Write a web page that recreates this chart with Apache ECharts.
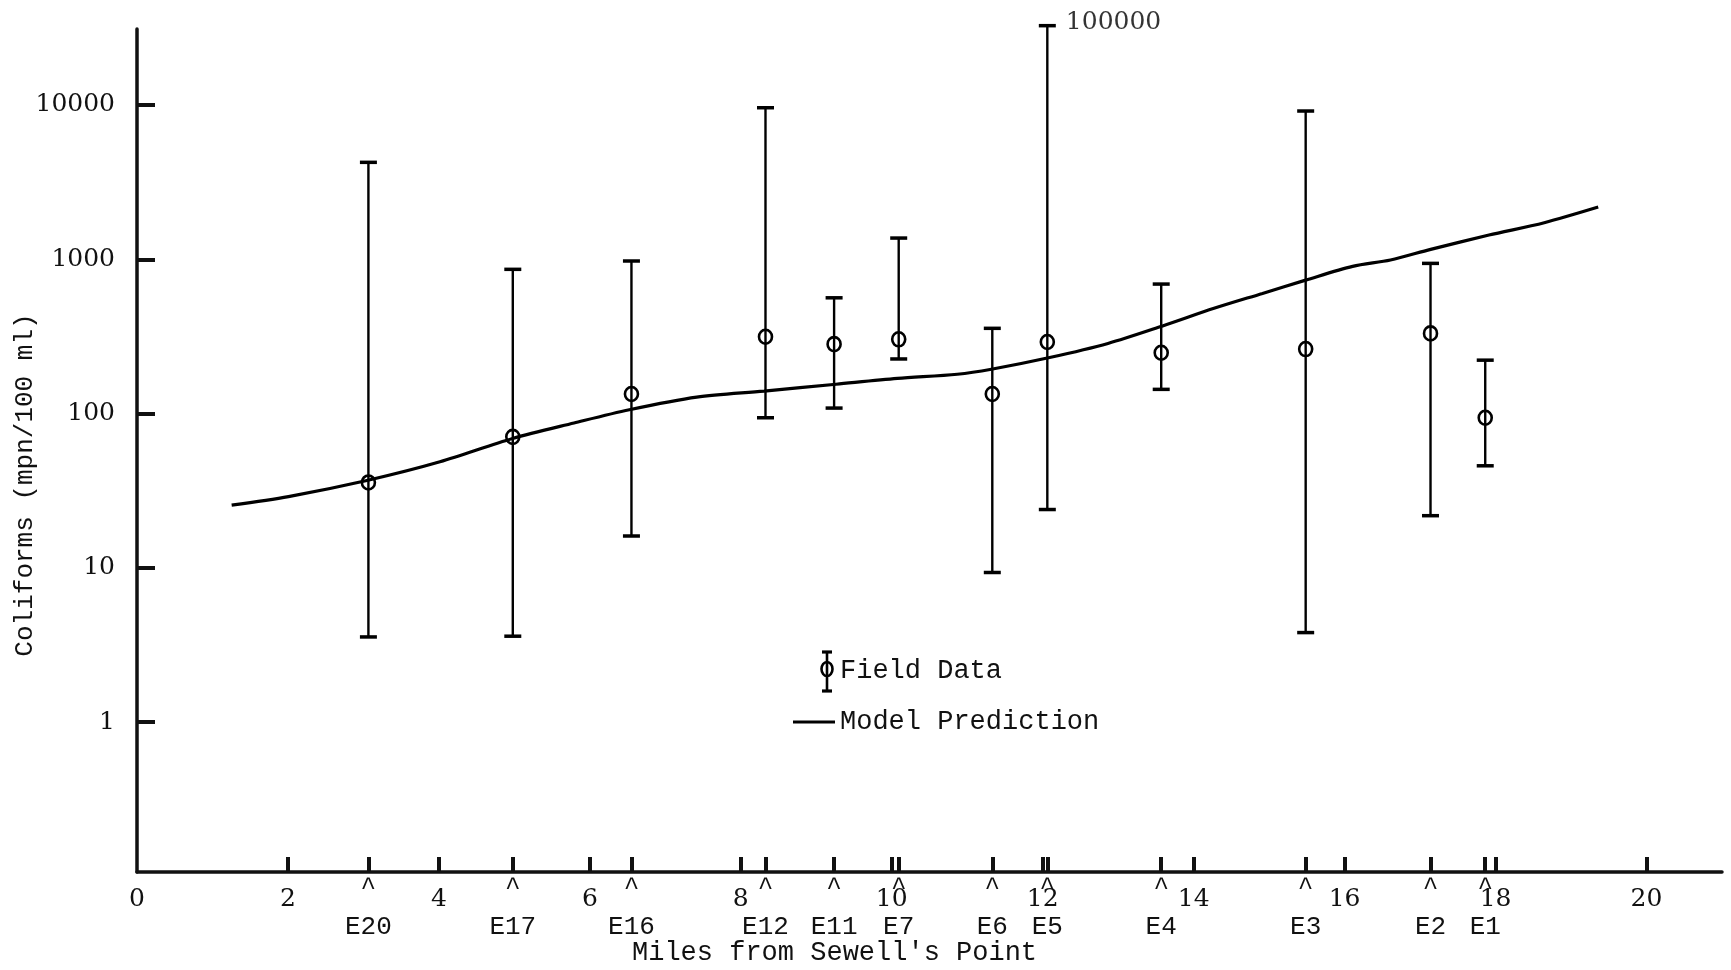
<!DOCTYPE html>
<html><head><meta charset="utf-8">
<script src="https://cdn.jsdelivr.net/npm/echarts@6/dist/echarts.min.js"></script>
<style>html,body{margin:0;padding:0;background:#fff;} #c{width:1731px;height:970px;}</style>
</head><body><div id="c"></div>
<script>
// ---- data ----
const stations     = ['E20','E17','E16','E12','E11','E7','E6','E5','E4','E3','E2','E1'];
const stationMiles = [3.066, 4.979, 6.551, 8.327, 9.236, 10.092, 11.332, 12.061, 13.570, 15.484, 17.138, 17.863];
const fieldMean    = [35.8, 70.7, 134, 315, 282, 303, 134, 291, 248, 262, 331, 94];
const fieldLow     = [3.57, 3.61, 16.1, 94, 108.6, 226, 9.34, 23.9, 143.6, 3.81, 21.8, 45.9];
const fieldHigh    = [4250, 861, 975, 9600, 563, 1373, 357, 32660, 691, 9140, 941, 222];
const clippedStation = 'E5';
const clippedLabel   = '100000';

const modelMiles  = [1.254, 2.007, 3.061, 4.014, 4.977, 5.790, 6.523, 7.416, 8.309, 9.262, 10.075, 10.868, 11.320, 12.092, 12.865, 13.588, 14.270, 14.912, 15.484, 16.106, 16.608, 17.140, 17.913, 18.645, 19.36];
const modelValues = [25.5, 29, 37, 48.7, 69, 87, 106, 128, 140, 155, 169, 180, 194, 231, 285, 370, 481, 601, 733, 900, 990, 1160, 1436, 1727, 2180];

const xTickValues  = [2, 4, 6, 8, 10, 12, 14, 16, 18, 20];
const xLabelValues = [0, 2, 4, 6, 8, 10, 12, 14, 16, 18, 20];
const yTickValues  = [1, 10, 100, 1000, 10000];

const xAxisTitle = "Miles from Sewell's Point";
const yAxisTitle = 'Coliforms (mpn/100 ml)';
const legendField = 'Field Data';
const legendModel = 'Model Prediction';

// ---- build ----
const INK = '#111';
const MONO = '"Liberation Mono", "DejaVu Sans Mono", monospace';
const SERIF = '"DejaVu Serif", "Liberation Serif", serif';

const errData = stationMiles.map((m, i) => [m, fieldMean[i], fieldLow[i], fieldHigh[i]]);
const modelData = modelMiles.map((m, i) => [m, modelValues[i]]);
const ci = stations.indexOf(clippedStation);

const chart = echarts.init(document.getElementById('c'));
chart.setOption({
  backgroundColor: '#fff',
  animation: false,
  grid: { left: 137, right: 9, top: 29, bottom: 98, outerBoundsMode: 'none' },
  xAxis: [{
    type: 'value', min: 0, max: 21,
    axisLine: { show: true, lineStyle: { color: INK, width: 3.5 } },
    axisTick: { show: true, inside: true, length: 15, customValues: xTickValues, lineStyle: { color: INK, width: 4 } },
    axisLabel: { customValues: xLabelValues, margin: 15, color: INK, fontFamily: SERIF, fontSize: 25 },
    splitLine: { show: false }
  }, {
    type: 'value', min: 0, max: 21, position: 'bottom',
    axisLine: { show: false },
    axisTick: { show: true, inside: true, length: 15, customValues: stationMiles, lineStyle: { color: INK, width: 4 } },
    axisLabel: {
      customValues: stationMiles, margin: 6, color: INK,
      formatter: function (v) {
        let k = 0, best = 1e9;
        stationMiles.forEach((m, i) => { const d = Math.abs(m - v); if (d < best) { best = d; k = i; } });
        return '{c|^}\n{s|' + stations[k] + '}';
      },
      rich: {
        c: { fontFamily: MONO, fontSize: 26, lineHeight: 20, color: INK },
        s: { fontFamily: MONO, fontSize: 26, lineHeight: 58, color: INK }
      }
    },
    splitLine: { show: false }
  }],
  yAxis: {
    type: 'log', logBase: 10, min: 0.107, max: 31080,
    axisLine: { show: true, lineStyle: { color: INK, width: 3.5 } },
    axisTick: { show: true, inside: true, length: 18, customValues: yTickValues, lineStyle: { color: INK, width: 4 } },
    axisLabel: { customValues: yTickValues, margin: 22, color: INK, fontFamily: SERIF, fontSize: 25,
      formatter: v => String(Math.round(v)) },
    splitLine: { show: false }
  },
  series: [{
    name: legendModel, type: 'line', xAxisIndex: 0, data: modelData,
    smooth: 0.3, symbol: 'none', lineStyle: { color: '#000', width: 3.2 }, z: 3
  }, {
    name: legendField, type: 'custom', xAxisIndex: 0, data: errData, clip: false,
    encode: { x: 0, y: [1, 2, 3] },
    renderItem: function (params, api) {
      const x = api.value(0);
      const pm = api.coord([x, api.value(1)]);
      const pl = api.coord([x, api.value(2)]);
      const ph = api.coord([x, api.value(3)]);
      const cw = 8.5;
      return { type: 'group', children: [
        { type: 'line', shape: { x1: pm[0], y1: ph[1], x2: pm[0], y2: pl[1] }, style: { stroke: '#000', lineWidth: 2.4 } },
        { type: 'line', shape: { x1: pm[0] - cw, y1: ph[1], x2: pm[0] + cw, y2: ph[1] }, style: { stroke: '#000', lineWidth: 3.5 } },
        { type: 'line', shape: { x1: pm[0] - cw, y1: pl[1], x2: pm[0] + cw, y2: pl[1] }, style: { stroke: '#000', lineWidth: 3.5 } },
        { type: 'ellipse', shape: { cx: pm[0], cy: pm[1], rx: 6.5, ry: 7 }, style: { stroke: '#000', lineWidth: 2.6, fill: 'none' } }
      ] };
    },
    z: 4
  }, {
    name: 'note', type: 'scatter', xAxisIndex: 0, symbolSize: 1, itemStyle: { color: 'rgba(0,0,0,0)' },
    data: [[stationMiles[ci], fieldHigh[ci]]], clip: false, silent: true,
    label: { show: true, position: 'right', distance: 18, offset: [0, -3], formatter: clippedLabel,
      color: '#000', fontFamily: SERIF, fontSize: 25 }
  }],
  graphic: [
    { type: 'text', left: 632, top: 939, style: { text: xAxisTitle, font: '27px ' + MONO, fill: INK } },
    { type: 'text', x: 25, y: 485, rotation: Math.PI / 2,
      style: { text: yAxisTitle, font: '26px ' + MONO, fill: INK, align: 'center', verticalAlign: 'middle' } },
    // legend
    { type: 'line', shape: { x1: 827, y1: 652, x2: 827, y2: 691 }, style: { stroke: '#000', lineWidth: 2.6 } },
    { type: 'line', shape: { x1: 822, y1: 652, x2: 832, y2: 652 }, style: { stroke: '#000', lineWidth: 3.2 } },
    { type: 'line', shape: { x1: 822, y1: 691, x2: 832, y2: 691 }, style: { stroke: '#000', lineWidth: 3.2 } },
    { type: 'ellipse', shape: { cx: 827, cy: 669, rx: 5.5, ry: 7 }, style: { stroke: '#000', lineWidth: 2.6, fill: 'none' } },
    { type: 'text', x: 840, y: 671, style: { text: legendField, font: '27px ' + MONO, fill: INK, verticalAlign: 'middle' } },
    { type: 'line', shape: { x1: 793, y1: 722, x2: 835, y2: 722 }, style: { stroke: '#000', lineWidth: 3 } },
    { type: 'text', x: 840, y: 722, style: { text: legendModel, font: '27px ' + MONO, fill: INK, verticalAlign: 'middle' } }
  ]
});
</script></body></html>
